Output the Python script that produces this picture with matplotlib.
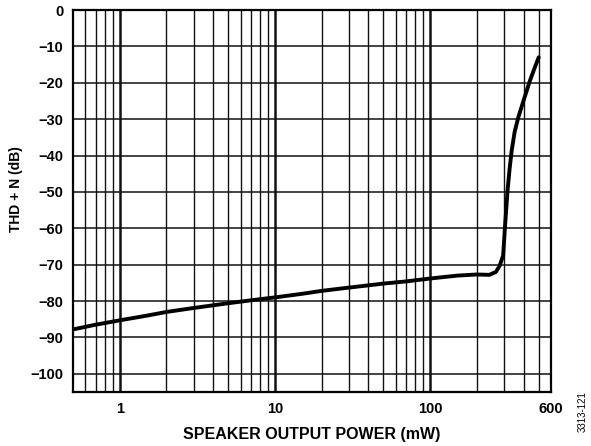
import matplotlib
matplotlib.use("Agg")
import matplotlib.pyplot as plt
from matplotlib.ticker import FixedLocator, NullFormatter

plt.rcParams['font.family'] = ['Liberation Sans', 'DejaVu Sans']

power_mw = [0.5, 0.7, 1, 1.5, 2, 3, 5, 7, 10, 15, 20, 30, 50, 70, 100, 150, 200,
            240, 265, 280, 295, 305, 315, 325, 335, 350, 370, 400, 440, 470, 500]
thd_db = [-87.8, -86.5, -85.3, -84.0, -83.0, -81.9, -80.6, -79.8, -79.0, -78.0, -77.2,
          -76.3, -75.2, -74.6, -73.8, -73.0, -72.7, -72.8, -72.0, -70.3, -67.5, -58.0,
          -49.6, -43.5, -38.6, -33.5, -29.4, -24.8, -19.3, -16.0, -13.0]

x_major = [1, 10, 100, 600]
x_major_labels = ['1', '10', '100', '600']
x_minor = [0.6, 0.7, 0.8, 0.9, 2, 3, 4, 5, 6, 7, 8, 9,
           20, 30, 40, 50, 60, 70, 80, 90, 200, 300, 400, 500]
y_ticks = list(range(0, -101, -10))

fig = plt.figure(figsize=(5.91, 4.46), dpi=100)
ax = fig.add_axes([73/591, 54/446, (551-73)/591, (392-10)/446])
ax.set_xscale('log')
ax.set_xlim(0.5, 600)
ax.set_ylim(-105, 0)

ax.xaxis.set_major_locator(FixedLocator(x_major))
ax.set_xticklabels(x_major_labels)
ax.xaxis.set_minor_locator(FixedLocator(x_minor))
ax.xaxis.set_minor_formatter(NullFormatter())
ax.set_yticks(y_ticks)

# grid
for v in x_minor:
    ax.axvline(v, color='#111111', lw=1.0, zorder=1)
for v in [1, 10, 100]:
    ax.axvline(v, color='#111111', lw=1.8, zorder=1)
for v in y_ticks[1:]:
    ax.axhline(v, color='#111111', lw=1.1, zorder=1)

ax.plot(power_mw, thd_db, color='black', lw=2.8, solid_capstyle='round',
        solid_joinstyle='round', zorder=3)

for s in ax.spines.values():
    s.set_linewidth(1.6)
ax.tick_params(axis='both', which='both', length=0, labelsize=10.5, pad=7)
for lab in ax.get_xticklabels() + ax.get_yticklabels():
    lab.set_fontweight('bold')

ax.set_xlabel('SPEAKER OUTPUT POWER (mW)', fontsize=11.5, fontweight='bold', labelpad=8)
ax.set_ylabel('THD + N (dB)', fontsize=10, fontweight='bold')
ax.yaxis.set_label_coords(-0.105, 0.53)

fig.text(583/591, 1 - 412/446, '3313-121', rotation=90, fontsize=7,
         ha='center', va='center')

fig.savefig('out.png', dpi=100)
